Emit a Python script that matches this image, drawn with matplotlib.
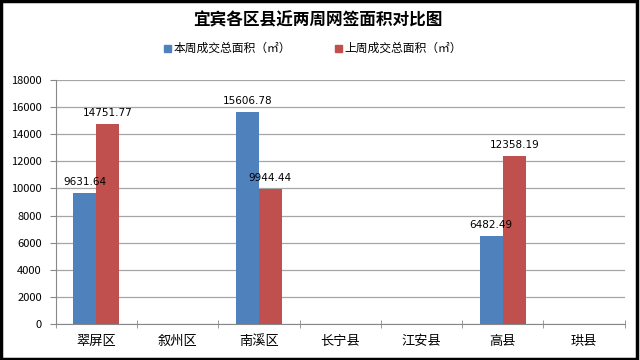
import matplotlib.pyplot as plt
from matplotlib.patches import Rectangle
import numpy as np

plt.rcParams['font.family'] = ['Noto Sans CJK SC', 'DejaVu Sans']

## 数据
districts = ['翠屏区', '叙州区', '南溪区', '长宁县', '江安县', '高县', '珙县']
this_week = [9631.64, 0, 15606.78, 0, 0, 6482.49, 0]
last_week = [14751.77, 0, 9944.44, 0, 0, 12358.19, 0]
this_label = '本周成交总面积（㎡）'
last_label = '上周成交总面积（㎡）'
title = '宜宾各区县近两周网签面积对比图'

blue = '#4f81bd'
red = '#c0504d'

fig = plt.figure(figsize=(6.4, 3.6), dpi=100)
ax = fig.add_axes([0.087, 0.1, 0.889, 0.678])

x = np.arange(len(districts))
w = 0.283
ax.bar(x - w/2, this_week, w, color=blue, zorder=3)
ax.bar(x + w/2, last_week, w, color=red, zorder=3)

# 数据标签（只标非零值）
for i in range(len(x)):
    if this_week[i] > 0:
        ax.text(x[i] - w/2, this_week[i] + 450, '%.2f' % this_week[i],
                ha='center', va='bottom', fontsize=7.5, family='DejaVu Sans')
    if last_week[i] > 0:
        ax.text(x[i] + w/2, last_week[i] + 450, '%.2f' % last_week[i],
                ha='center', va='bottom', fontsize=7.5, family='DejaVu Sans')

ax.set_xlim(-0.5, len(districts) - 0.5)
ax.set_ylim(0, 18000)
ax.set_yticks(range(0, 18001, 2000))
ax.tick_params(axis='y', labelsize=8, length=4, color='#888888', pad=6)
ax.yaxis.grid(True, color='#a6a6a6', linewidth=0.9, zorder=0)

ax.set_xticks(x)
ax.set_xticklabels(districts, fontsize=9.5)
ax.tick_params(axis='x', length=0, pad=8)
ax.set_xticks(np.arange(-0.5, len(districts)), minor=True)
ax.tick_params(axis='x', which='minor', direction='inout', length=6, color='#888888')

for s in ['top', 'right']:
    ax.spines[s].set_visible(False)
ax.spines['left'].set_color('#888888')
ax.spines['bottom'].set_color('#888888')

# 标题与图例
fig.text(0.497, 0.942, title, ha='center', va='center', fontsize=12, fontweight='bold')
fig.patches.append(Rectangle((0.256, 0.855), 0.011, 0.02, transform=fig.transFigure,
                             color=blue, figure=fig))
fig.text(0.271, 0.867, this_label, ha='left', va='center', fontsize=8.5)
fig.patches.append(Rectangle((0.523, 0.855), 0.011, 0.02, transform=fig.transFigure,
                             color=red, figure=fig))
fig.text(0.538, 0.867, last_label, ha='left', va='center', fontsize=8.5)

# 外框
fig.patches.append(Rectangle((0.002, 0.004), 0.994, 0.993, transform=fig.transFigure,
                             fill=False, edgecolor='black', linewidth=2.5, figure=fig))

fig.savefig('out.png', dpi=100)
